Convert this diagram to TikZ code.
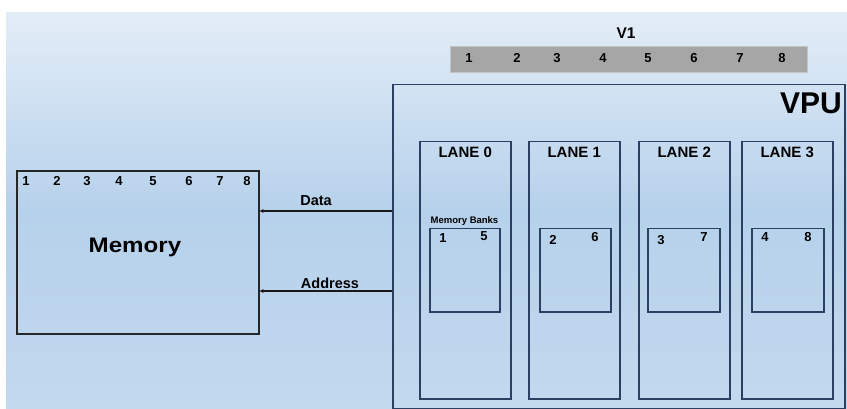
\documentclass[tikz,border=0pt]{standalone}
\usepackage{fontspec}
\setmainfont{Liberation Sans}
\newfontfamily\widefont[FakeStretch=1.15]{Liberation Sans}
\usetikzlibrary{arrows.meta}
\definecolor{bgtop}{HTML}{E3EDF7}
\definecolor{bgmid}{HTML}{B6D1EB}
\definecolor{bgbot}{HTML}{C2D9EE}
\definecolor{navy}{HTML}{2B3F63}
\definecolor{bargray}{HTML}{A6A6A6}
\definecolor{baredge}{HTML}{C4C4C4}
\tikzset{
  x=1pt, y=-1pt,
  unitbox/.style={draw=navy, line width=1.5pt, inner sep=0pt, anchor=north west},
  membox/.style={draw=black!85, line width=1.6pt, inner sep=0pt, anchor=north west},
  num/.style={font=\fontsize{13}{14}\selectfont\bfseries, inner sep=0pt},
  lanelabel/.style={font=\fontsize{15}{16}\selectfont\bfseries, inner sep=0pt},
  sig/.style={font=\fontsize{14.5}{15}\selectfont\bfseries, inner sep=0pt},
  arr/.style={draw=black!90, line width=1.3pt, -{Stealth[length=4pt,width=4pt]}}
}
\begin{document}
\begin{tikzpicture}
\useasboundingbox (0,0) rectangle (847,409);
% backdrop
\shade[top color=bgtop, bottom color=bgbot, middle color=bgmid, shading angle=0]
  (6,13) rectangle (847,409);

% register V1
\node[fill=bargray, draw=baredge, line width=0.8pt, inner sep=0pt, anchor=north west,
      minimum width=357pt, minimum height=26pt] (v1bar) at (450,46) {};
\node[font=\fontsize{15.5}{16}\selectfont\bfseries, inner sep=0pt] (v1lab) at (626,33) {V1};
\foreach \x/\t [count=\i] in {469/1,517/2,557/3,603/4,648/5,694/6,740/7,782/8}
  \node[num] (v1n\i) at (\x,58) {\t};

% vector processing unit
\node[unitbox, minimum width=452pt, minimum height=324pt] (vpu) at (392,84) {};
\node[font=\fontsize{30}{31}\selectfont\bfseries, inner sep=0pt] (vpulab) at (811,103) {VPU};

% lanes with their memory banks
\foreach \lx/\bx/\bw/\a/\b/\ay/\by [count=\i from 0] in
  {419/429/70/1/5/238/236, 528/539/71/2/6/240/237, 638/647/72/3/7/240/237, 741/751/72/4/8/237/237} {
  \node[unitbox, minimum width=91pt, minimum height=257pt] (lane\i) at (\lx,141) {};
  \node[lanelabel, anchor=north] (lanelab\i) at ([yshift=-5.5pt]lane\i.north) {LANE \i};
  \node[unitbox, minimum width=\bw pt, minimum height=83pt] (bank\i) at (\bx,228) {};
  \node[num] (bank\i a) at (\bx+14,\ay) {\a};
  \node[num] (bank\i b) at (\bx+\bw-15,\by) {\b};
}
\node[font=\fontsize{9.5}{10}\selectfont\bfseries, inner sep=0pt] (banklab) at (464.5,221) {Memory Banks};

% main memory
\node[membox, minimum width=242pt, minimum height=163pt] (mem) at (16,170) {};
\node[font=\fontsize{21}{22}\widefont\bfseries, inner sep=0pt] (memlab) at (135,247) {Memory};
\foreach \x/\t [count=\i] in {26/1,57/2,87/3,119/4,153/5,189/6,220/7,247/8}
  \node[num] (memn\i) at (\x,181) {\t};

% data and address paths
\coordinate (datay) at (0,211);
\coordinate (addry) at (0,291);
\draw[arr] (vpu.west |- datay) -- (mem.east |- datay);
\draw[arr] (vpu.west |- addry) -- (mem.east |- addry);
\node[sig] (datalab) at (316,201) {Data};
\node[sig] (addrlab) at (330,283) {Address};
\end{tikzpicture}
\end{document}
